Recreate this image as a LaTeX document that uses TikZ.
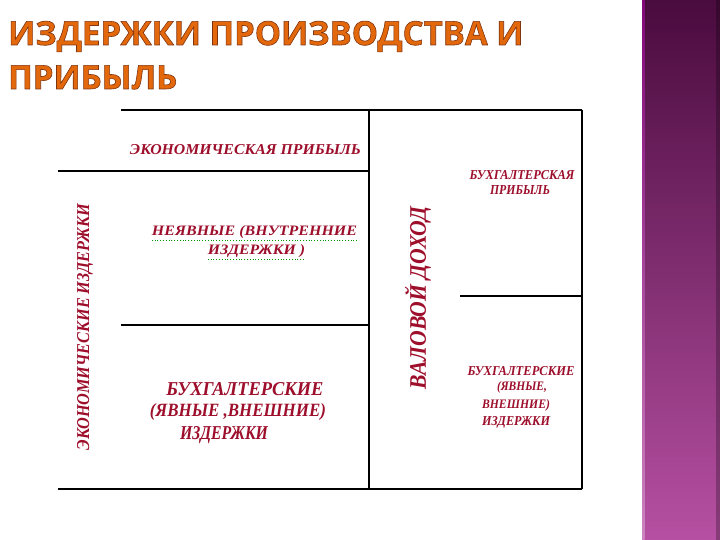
\documentclass[tikz,border=0pt]{standalone}
\usepackage{fontspec}
\usepackage{graphicx}
\usetikzlibrary{positioning}
\newfontfamily\titlefont{Open Sans}
\newfontfamily\cellfont{Liberation Serif}
\definecolor{titleorange}{HTML}{E3680C}
\definecolor{celltext}{HTML}{9E0F2C}
\definecolor{bartop}{HTML}{4A0B3E}
\definecolor{barbottom}{HTML}{B650A2}
\newcommand{\outlined}[1]{\special{pdf:literal direct 2 Tr 0.6 w 0.50 0.20 0.06 RG}#1\special{pdf:literal direct 0 Tr}}
\newcommand{\fitcell}[3]{\resizebox{#1pt}{#2pt}{\bfseries\itshape #3}}

\begin{document}
\begin{tikzpicture}[x=1pt, y=-1pt,
  cell/.style={inner sep=0pt, font=\cellfont, text=celltext},
  tableline/.style={line width=1.2pt, draw=black},
  title/.style={anchor=base west, inner sep=0pt, font=\titlefont\bfseries\fontsize{33}{38}\selectfont, text=titleorange}]
\useasboundingbox (0,0) rectangle (720,540);
\fill[white] (0,0) rectangle (720,540);
% side bar
\shade[top color=bartop, bottom color=barbottom] (642,0) rectangle (720,540);
\shade[top color=bartop!70!magenta, bottom color=barbottom!70!white] (642,0) rectangle (644.5,540);
\fill[black, opacity=0.25] (716,0) rectangle (720,540);
% title
\node[title] (head1) at (8,45) {\outlined{ИЗДЕРЖКИ ПРОИЗВОДСТВА И}};
\node[title] (head2) at (8,89) {\outlined{ПРИБЫЛЬ}};
% table
\draw[tableline] (121,110) -- (582,110);
\draw[tableline] (369,110) -- (369,489);
\draw[tableline] (582,110) -- (582,489);
\draw[tableline] (58,171) -- (369,171);
\draw[tableline] (121,325) -- (369,325);
\draw[tableline] (58,489) -- (582,489);
\draw[tableline] (460,296) -- (582,296);
% cells
\node[cell] (econprofit) at (245.5,150) {\fitcell{231}{10}{ЭКОНОМИЧЕСКАЯ ПРИБЫЛЬ}};
\node[cell] (implicit1) at (254.5,232) {\fitcell{205}{10}{НЕЯВНЫЕ (ВНУТРЕННИЕ}};
\node[cell] (implicit2) at (256.5,251) {\fitcell{97}{10}{ИЗДЕРЖКИ )}};
\draw[green!60!black, dotted, line width=0.8pt] ([yshift=-2pt]implicit1.south west) -- ([yshift=-2pt]implicit1.south east);
\draw[green!60!black, dotted, line width=0.8pt] ([yshift=-2pt]implicit2.south west) -- ([yshift=-2pt]implicit2.south east);
\node[cell] (acct1) at (245,389) {\fitcell{157}{13}{БУХГАЛТЕРСКИЕ}};
\node[cell] (acct2) at (238,412) {\fitcell{176}{13}{(ЯВНЫЕ ,ВНЕШНИЕ)}};
\node[cell] (acct3) at (224,435) {\fitcell{88}{13}{ИЗДЕРЖКИ}};
\node[cell, rotate=90] (econcost) at (85,327) {\fitcell{247}{12}{ЭКОНОМИЧЕСКИЕ ИЗДЕРЖКИ}};
\node[cell, rotate=90] (gross) at (418,298) {\fitcell{183}{21}{ВАЛОВОЙ ДОХОД}};
\node[cell] (acctprofit1) at (522,175) {\fitcell{105}{9}{БУХГАЛТЕРСКАЯ}};
\node[cell] (acctprofit2) at (520,190) {\fitcell{60}{9}{ПРИБЫЛЬ}};
\node[cell] (acctcost1) at (521,371) {\fitcell{107}{9}{БУХГАЛТЕРСКИЕ}};
\node[cell] (acctcost2) at (522,387) {\fitcell{50}{9}{(ЯВНЫЕ,}};
\node[cell] (acctcost3) at (516,405) {\fitcell{68}{9}{ВНЕШНИЕ)}};
\node[cell] (acctcost4) at (516,422) {\fitcell{68}{9}{ИЗДЕРЖКИ}};
\end{tikzpicture}
\end{document}
